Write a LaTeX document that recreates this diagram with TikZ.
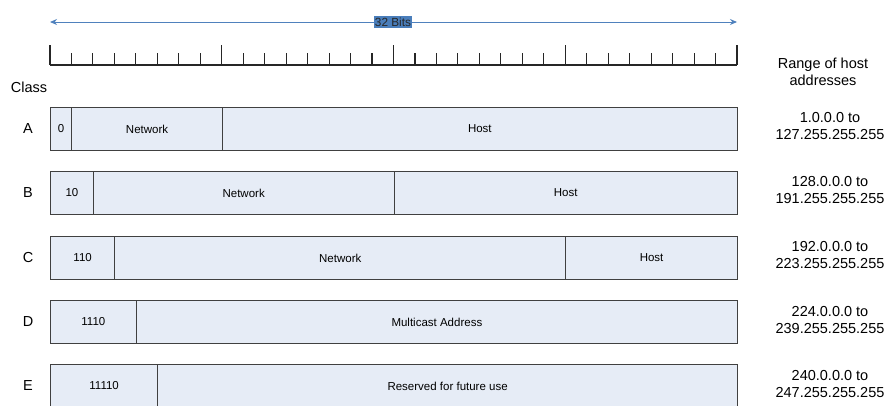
\documentclass[tikz,border=0pt]{standalone}
\usepackage{fontspec}
\setmainfont{Liberation Sans}
\usetikzlibrary{arrows.meta}
\definecolor{fieldfill}{HTML}{E6ECF6}
\definecolor{fieldline}{HTML}{404040}
\definecolor{arrowblue}{HTML}{4F81BD}
\definecolor{labelblue}{HTML}{4A7EBB}
\def\bw{21.46875}
\tikzset{
  field/.style={draw=fieldline, fill=fieldfill, line width=0.9pt, rectangle, inner sep=0pt,
    minimum height=43pt, anchor=north west, font=\fontsize{11.5}{13}\selectfont},
  classlbl/.style={font=\fontsize{14.5}{16}\selectfont},
  rangelbl/.style={font=\fontsize{14.5}{17}\selectfont, align=center},
  ruler/.style={line width=1.1pt, draw=black!85},
}
\begin{document}
\begin{tikzpicture}[x=1pt,y=-1pt]
\useasboundingbox (0,0) rectangle (890,405);
\clip (0,0) rectangle (890,405);
% 32 bits arrow
\coordinate (arrL) at (50,22);
\coordinate (arrR) at (737,22);
\draw[arrowblue, line width=1pt, {Stealth[length=7pt,width=6pt]}-{Stealth[length=7pt,width=6pt]}] (arrL) -- (arrR);
\node[fill=labelblue, inner xsep=1pt, inner ysep=1.5pt, font=\fontsize{11.8}{13}\selectfont, text=black!85] (bits) at (393,22) {32 Bits};
% ruler
\draw[ruler] (50,65) -- (737,65);
\foreach \i in {0,...,32}{
  \pgfmathtruncatemacro{\m}{mod(\i,8)}
  \ifnum\m=0
    \draw[ruler] ({50+\i*\bw},45) -- ({50+\i*\bw},65);
  \else
    \draw[ruler] ({50+\i*\bw},53) -- ({50+\i*\bw},65);
  \fi
}
% headers
\node[classlbl] (class) at (29,87) {Class};
\node[rangelbl] (range) at (823,72) {Range of host\\addresses};
% Class A
\node[field, minimum width={1*\bw pt}] (a0) at (50,107) {0};
\node[field, minimum width={7*\bw pt}] (a1) at ({50+1*\bw},107) {Network};
\node[field, minimum width={24*\bw pt}] (a2) at ({50+8*\bw},107) {Host};
\node[classlbl] (ca) at (28,128.5) {A};
\node[rangelbl] (ra) at (830,126.5) {1.0.0.0 to\\127.255.255.255};
% Class B
\node[field, minimum width={2*\bw pt}] (b0) at (50,171) {10};
\node[field, minimum width={14*\bw pt}] (b1) at ({50+2*\bw},171) {Network};
\node[field, minimum width={16*\bw pt}] (b2) at ({50+16*\bw},171) {Host};
\node[classlbl] (cb) at (28,192.5) {B};
\node[rangelbl] (rb) at (830,190.5) {128.0.0.0 to\\191.255.255.255};
% Class C
\node[field, minimum width={3*\bw pt}] (c0) at (50,236) {110};
\node[field, minimum width={21*\bw pt}] (c1) at ({50+3*\bw},236) {Network};
\node[field, minimum width={8*\bw pt}] (c2) at ({50+24*\bw},236) {Host};
\node[classlbl] (cc) at (28,257.5) {C};
\node[rangelbl] (rc) at (830,255.5) {192.0.0.0 to\\223.255.255.255};
% Class D
\node[field, minimum width={4*\bw pt}] (d0) at (50,300) {1110};
\node[field, minimum width={28*\bw pt}] (d1) at ({50+4*\bw},300) {Multicast Address};
\node[classlbl] (cd) at (28,321.5) {D};
\node[rangelbl] (rd) at (830,319.5) {224.0.0.0 to\\239.255.255.255};
% Class E
\node[field, minimum width={5*\bw pt}] (e0) at (50,364) {11110};
\node[field, minimum width={27*\bw pt}] (e1) at ({50+5*\bw},364) {Reserved for future use};
\node[classlbl] (ce) at (28,385.5) {E};
\node[rangelbl] (re) at (830,383.5) {240.0.0.0 to\\247.255.255.255};
\end{tikzpicture}
\end{document}
